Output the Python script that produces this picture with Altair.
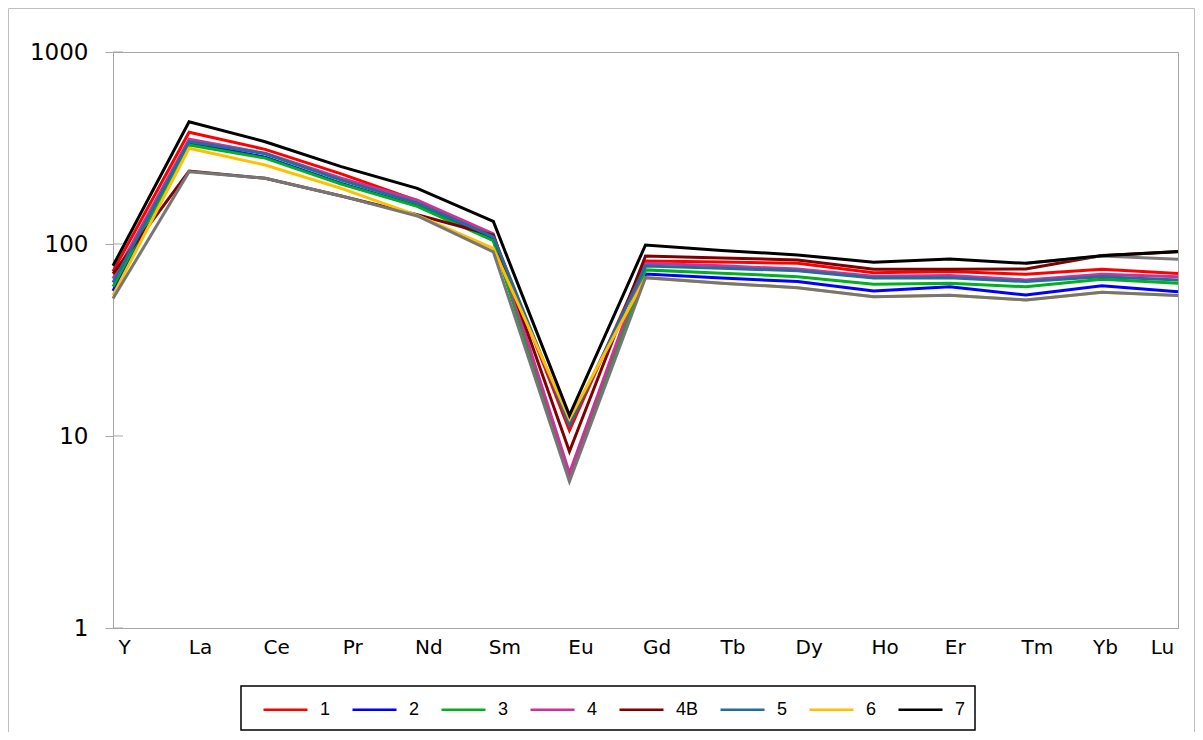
import altair as alt
import pandas as pd

elements = ["Y", "La", "Ce", "Pr", "Nd", "Sm", "Eu", "Gd", "Tb", "Dy", "Ho", "Er", "Tm", "Yb", "Lu"]

s1 = [72, 382, 311, 232, 168, 110, 10.7, 81.5, 80.5, 79.3, 70.9, 71.8, 69.5, 73.8, 70.2]
s2 = [57, 338, 283, 207, 158, 105, 6.1, 69.8, 66.5, 63.7, 56.9, 59.9, 54.2, 60.6, 56.4]
s3 = [60, 328, 280, 205, 157, 104, 6.2, 73.3, 70.5, 67.6, 61.7, 62.4, 59.9, 65.6, 62.5]
s4 = [66, 352, 297, 220, 169, 113, 6.4, 79.3, 77.0, 74.0, 68.0, 68.5, 65.0, 69.5, 67.6]
s4b = [70, 240, 220, 178, 142, 111, 8.3, 86.6, 84.5, 82.6, 73.8, 73.8, 74.1, 87.0, 91.0]
s5 = [63, 341, 295, 215, 163, 109, 11.4, 76.8, 74.7, 72.6, 66.5, 66.8, 63.7, 67.6, 65.0]
s6 = [54, 315, 258, 195, 141, 95, 12.3, 66.8, 62.5, 59.2, 53.2, 54.1, 51.1, 56.0, 53.9]
s6x = [52, 238, 220, 178, 140, 91, 5.8, 66.8, 62.5, 59.2, 53.2, 54.1, 51.1, 56.0, 53.9]
s6y = [None, None, None, None, None, None, None, None, None, None, None, None, 79.3, 86.5, 83.2]
s7 = [77, 433, 341, 253, 195, 131, 12.8, 98.8, 92.5, 87.7, 80.3, 83.5, 79.3, 86.9, 91.3]

series_names = ["1", "2", "3", "4", "4B", "5", "6", "6x", "6y", "7"]
series_values = [s1, s2, s3, s4, s4b, s5, s6, s6x, s6y, s7]
series_colors = ["#FF0000", "#0000FF", "#00B020", "#CC3399", "#7F0000", "#1F6E9C",
                 "#FFC000", "#767676", "#7A7A7A", "#000000"]
legend_names = ["1", "2", "3", "4", "4B", "5", "6", "7"]
tick_values = [1, 10, 100, 1000]

rows = []
for name, vals in zip(series_names, series_values):
    for i, (el, v) in enumerate(zip(elements, vals)):
        if v is not None:
            rows.append({"series": name, "element": el, "idx": i, "value": v})
df = pd.DataFrame(rows)

W, H = 1065, 576
AX = "#A6A6A6"

label_offset = {
    "condition": [
        {"test": "datum.value == 'Lu'", "value": -16},
        {"test": "datum.value == 'Yb'", "value": 3},
        {"test": "datum.value == 'Er'", "value": 5},
    ],
    "value": 11,
}

lines = alt.Chart(df).mark_line(strokeWidth=3).encode(
    x=alt.X("element:N", sort=elements,
            scale=alt.Scale(type="point", padding=0),
            axis=alt.Axis(title=None, labelAngle=0, ticks=False, domainColor=AX,
                          labelFont="DejaVu Sans", labelFontSize=20, labelColor="black",
                          labelPadding=9, labelOffset=label_offset)),
    y=alt.Y("value:Q",
            scale=alt.Scale(type="log", domain=[1, 1000], nice=False),
            axis=alt.Axis(title=None, values=tick_values, format="d", grid=False,
                          tickSize=8, tickColor=AX, domainColor=AX,
                          labelFont="DejaVu Sans", labelFontSize=23, labelColor="black",
                          labelPadding=17)),
    color=alt.Color("series:N",
                    scale=alt.Scale(domain=series_names, range=series_colors),
                    legend=alt.Legend(title=None, orient="none", legendX=149, legendY=634,
                                      direction="horizontal", columns=8,
                                      values=legend_names,
                                      symbolType="stroke", symbolSize=1936,
                                      symbolStrokeWidth=2.5,
                                      labelFont="Liberation Sans", labelFontSize=18,
                                      labelColor="black", labelOffset=11,
                                      columnPadding=16, padding=0)),
    order=alt.Order("idx:Q"),
)

ticks_df = pd.DataFrame({"value": tick_values})
inner_ticks = alt.Chart(ticks_df).mark_rule(color=AX, strokeWidth=1).encode(
    y=alt.Y("value:Q"),
    x=alt.value(0),
    x2=alt.value(10),
)

border = alt.Chart(pd.DataFrame({"a": [0]})).mark_rect(
    filled=False, stroke="#BFBFBF", strokeWidth=1
).encode(
    x=alt.value(-104.5), x2=alt.value(W + 16.5),
    y=alt.value(-43.5), y2=alt.value(H + 140),
)

legend_box = alt.Chart(pd.DataFrame({"a": [0]})).mark_rect(
    filled=False, stroke="black", strokeWidth=1.5
).encode(
    x=alt.value(128), x2=alt.value(862),
    y=alt.value(634), y2=alt.value(678),
)

chart = alt.layer(border, legend_box, lines, inner_ticks).properties(
    width=W, height=H,
    padding={"left": 105, "top": 44, "right": 17, "bottom": 104},
    autosize=alt.AutoSizeParams(type="none"),
).configure_view(stroke=AX, strokeWidth=1)

chart.save("out.html", embed_options={"renderer": "svg", "actions": False})
